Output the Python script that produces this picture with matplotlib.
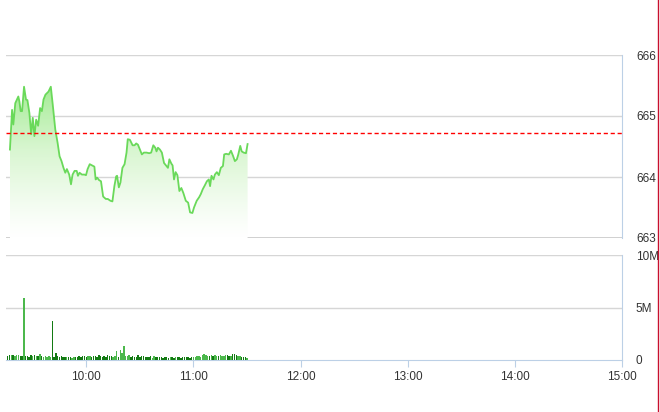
import numpy as np
import matplotlib
matplotlib.use("Agg")
import matplotlib.pyplot as plt
from matplotlib.lines import Line2D
from matplotlib.colors import LinearSegmentedColormap

# minutes after 9:15 and index value
price_minutes = [2.2, 3.4, 4.1, 5.2, 6.9, 7.5, 8.2, 9.0, 10.1, 11.2, 12.0, 13.1, 14.1, 15.0,
                 15.9, 16.9, 18.0, 19.1, 20.1, 21.0, 22.1, 23.8, 25.1, 26.2, 27.6, 28.9,
                 30.0, 31.1, 32.2, 33.2, 34.1, 35.4, 36.4, 37.3, 38.4, 39.6, 40.3, 41.2,
                 42.5, 43.9, 44.8, 45.7, 46.9, 48.2, 49.5, 50.2, 51.0, 52.1, 53.2, 54.4,
                 55.9, 57.0, 58.5, 59.6, 60.7, 61.7, 62.2, 63.2, 64.1, 65.2, 66.4, 67.5,
                 68.2, 69.4, 70.9, 72.0, 72.9, 73.9, 75.0, 76.1, 77.2, 78.7, 80.2, 81.3,
                 82.5, 83.6, 84.3, 85.1, 86.2, 87.3, 88.5, 89.6, 90.7, 91.5, 92.6, 93.3,
                 94.1, 95.0, 96.0, 97.1, 98.2, 99.3, 100.7, 102.0, 103.1, 104.4, 105.3,
                 106.8, 108.2, 109.1, 110.2, 111.3, 112.5, 113.6, 114.3, 115.1, 116.2,
                 117.0, 118.1, 119.2, 120.3, 121.5, 122.2, 123.3, 124.8, 126.0, 127.1,
                 128.2, 129.3, 130.1, 131.2, 132.0, 133.1, 134.4, 135.3]
price_values = [664.45, 665.10, 664.86, 665.21, 665.32, 665.24, 665.08, 665.08, 665.48, 665.27,
                665.26, 665.05, 664.70, 664.97, 664.67, 664.94, 664.84, 665.13, 665.08, 665.27,
                665.35, 665.40, 665.48, 665.18, 664.78, 664.56, 664.34, 664.26, 664.15, 664.07,
                664.13, 664.04, 663.88, 664.04, 664.10, 664.10, 664.02, 664.07, 664.04, 664.04,
                664.03, 664.13, 664.21, 664.19, 664.17, 663.96, 663.99, 663.95, 663.93, 663.68,
                663.64, 663.64, 663.61, 663.60, 663.85, 664.01, 664.02, 663.83, 663.91, 664.15,
                664.21, 664.40, 664.62, 664.61, 664.52, 664.52, 664.55, 664.53, 664.45, 664.37,
                664.40, 664.40, 664.39, 664.40, 664.52, 664.48, 664.42, 664.48, 664.45, 664.40,
                664.23, 664.19, 664.15, 664.29, 664.22, 664.19, 663.96, 664.08, 664.03, 663.77,
                663.82, 663.74, 663.61, 663.58, 663.42, 663.41, 663.50, 663.61, 663.67, 663.72,
                663.80, 663.86, 663.93, 663.96, 663.85, 664.02, 663.96, 664.04, 664.08, 664.03,
                664.15, 664.18, 664.37, 664.38, 664.37, 664.43, 664.35, 664.26, 664.29, 664.37,
                664.51, 664.42, 664.40, 664.39, 664.54]
ref_price = 664.72

# volume per minute (millions), minute 1..135
volume_m = [0.4, 0.5, 0.45, 0.5, 0.4, 0.45, 0.5, 0.4, 0.35,
            5.9,
            0.35, 0.4, 0.3, 0.45, 0.4, 0.5, 0.35, 0.4, 0.6, 0.4, 0.3, 0.35, 0.3, 0.4, 0.3,
            3.7,
            0.3, 0.7, 0.4, 0.3, 0.35, 0.3, 0.25, 0.3, 0.25,
            0.25, 0.2, 0.3, 0.25, 0.3, 0.35, 0.3, 0.4, 0.35, 0.3, 0.4, 0.35, 0.3, 0.35, 0.4,
            0.3, 0.5, 0.35, 0.3, 0.4, 0.3, 0.5, 0.35, 0.4, 0.3,
            0.4, 0.9, 0.3, 1.0, 0.7, 1.3, 0.4, 0.35, 0.5, 0.3,
            0.4, 0.3, 0.25, 0.5, 0.3, 0.4, 0.35, 0.3, 0.25, 0.3, 0.4, 0.2, 0.35, 0.25, 0.3,
            0.3, 0.25, 0.2, 0.3, 0.25, 0.2, 0.3, 0.25, 0.2, 0.3, 0.25, 0.3, 0.2, 0.25, 0.3,
            0.25, 0.3, 0.2, 0.3, 0.25,
            0.3, 0.35, 0.4, 0.3, 0.45, 0.6, 0.5, 0.4, 0.35, 0.45, 0.4, 0.5, 0.35, 0.4, 0.45,
            0.4, 0.35, 0.5, 0.45, 0.4, 0.4, 0.55, 0.6, 0.45, 0.35, 0.4, 0.3, 0.25, 0.3, 0.2]
volume_minutes = np.arange(1, len(volume_m) + 1)

tick_minutes = [45, 105, 165, 225, 285, 345]
tick_labels = ["10:00", "11:00", "12:00", "13:00", "14:00", "15:00"]

plt.rcParams['font.family'] = ['Liberation Sans', 'DejaVu Sans']

W, H = 660, 412
fig = plt.figure(figsize=(W / 100, H / 100), dpi=100)

def px_axes(l, t, r, b):
    return fig.add_axes([l / W, 1 - b / H, (r - l) / W, (b - t) / H])

grid_c = "#d6d6d6"
spine_c = "#bcd0e6"
txt_c = "#333333"

# ---- price panel
ax = px_axes(6, 55, 622, 238)
x = np.array(price_minutes)
y = np.array(price_values)
ax.set_xlim(0, 345)
ax.set_ylim(663, 666)

cmap = LinearSegmentedColormap.from_list("g", ["#ffffff", "#d8f6d0", "#9fea8e"])
grad = np.linspace(0, 1, 256).reshape(-1, 1) ** 1.2
img = ax.imshow(grad, extent=[x[0], x[-1], 663, 665.6], origin="lower",
                aspect="auto", cmap=cmap, zorder=1)
poly = ax.fill_between(x, y, 663, facecolor="none", edgecolor="none")
img.set_clip_path(poly.get_paths()[0], transform=ax.transData)
ax.plot(x, y, color="#6ad95a", lw=1.3, zorder=3)
ax.axhline(ref_price, color="#ff0000", lw=1, ls=(0, (3, 2)), zorder=4)

for v in [664, 665, 666]:
    ax.axhline(v, color=grid_c, lw=1, zorder=0)
ax.axhline(663, color="#cccccc", lw=2, zorder=0)
for s in ["left", "top", "bottom"]:
    ax.spines[s].set_visible(False)
ax.spines["right"].set_color(spine_c)
ax.set_xticks([])
ax.yaxis.tick_right()
ax.set_yticks([663, 664, 665, 666])
ax.set_yticklabels(["663", "664", "665", "666"])
ax.tick_params(axis="y", length=0, pad=10, labelsize=8.5, labelcolor=txt_c)

# ---- volume panel
vx = px_axes(6, 255, 622, 360)
vx.set_xlim(0, 345)
vx.set_ylim(0, 10)
vp = np.interp(volume_minutes, x, y)
rising = np.diff(np.concatenate([[vp[0]], vp])) > 0.03
colors = np.where(rising, "#4cb84c", "#137a13")
vx.bar(volume_minutes, volume_m, width=0.8, color=colors, zorder=3)
vx.axhline(5, color=grid_c, lw=1, zorder=0)
vx.axhline(10, color=grid_c, lw=1, zorder=0)
for s in ["left", "top"]:
    vx.spines[s].set_visible(False)
vx.spines["right"].set_color(spine_c)
vx.spines["bottom"].set_color(spine_c)
vx.yaxis.tick_right()
vx.set_yticks([0, 5, 10])
vx.set_yticklabels(["0", "5M", "10M"])
vx.tick_params(axis="y", length=0, pad=10, labelsize=8.5, labelcolor=txt_c)
vx.set_xticks(tick_minutes)
vx.set_xticklabels(tick_labels)
vx.tick_params(axis="x", length=5, color=spine_c, pad=3, labelsize=8.5, labelcolor=txt_c)

fig.add_artist(Line2D([657.5 / W] * 2, [0, 1], color="#c8102e", lw=1))

fig.savefig("out.png", dpi=100)
